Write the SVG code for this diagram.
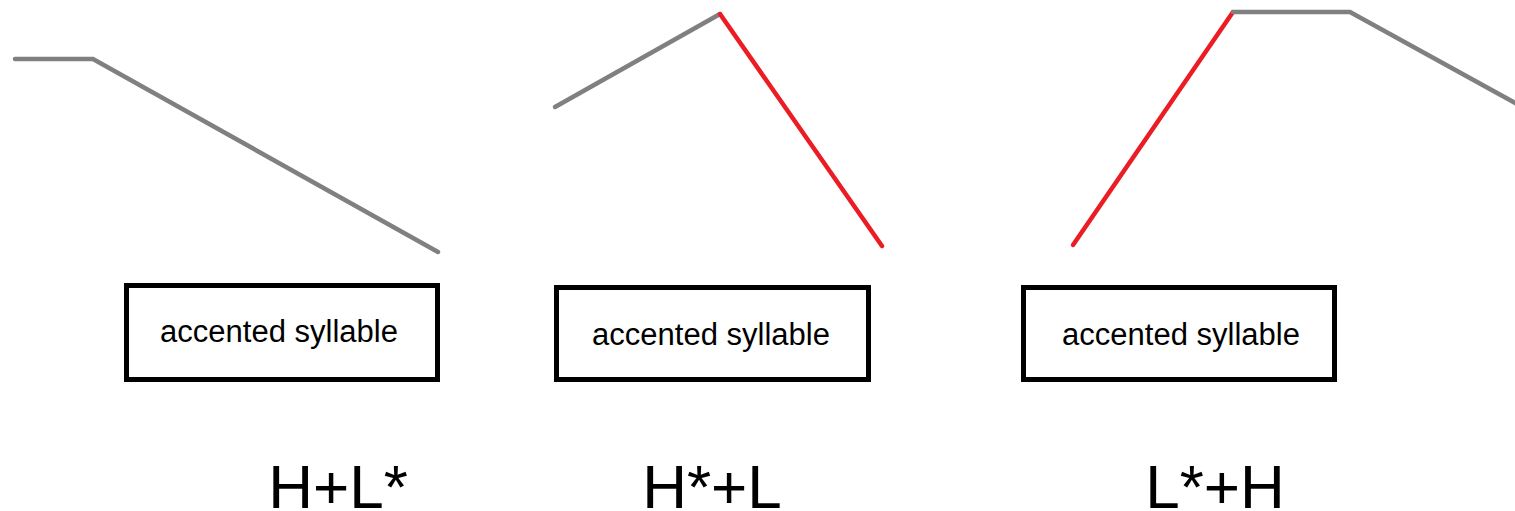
<svg xmlns="http://www.w3.org/2000/svg" width="1515" height="511" viewBox="0 0 1515 511">
<style>
.g{fill:none;stroke:#808080;stroke-width:4.5;stroke-linejoin:miter;stroke-linecap:round}
.r{fill:none;stroke:#ec1c24;stroke-width:4.5;stroke-linecap:round}
.box{fill:#fff;stroke:#000;stroke-width:5}
.t{font-family:"Liberation Sans",Arial,sans-serif;font-size:31px;fill:#000;text-anchor:middle}
.lab{font-family:"Liberation Sans",Arial,sans-serif;font-size:62px;fill:#000;text-anchor:middle}
</style>
<rect width="1515" height="511" fill="#fff"/>
<g id="connectors">
<polyline class="g" points="15,59 93,59 438,252"/>
<polyline class="g" points="555,107 720,14"/>
<line class="r" x1="720" y1="14" x2="882" y2="246"/>
<line class="r" x1="1073" y1="245" x2="1233" y2="12"/>
<polyline class="g" points="1233,12 1350,12 1517,104"/>
</g>
<g id="node1">
<rect class="box" x="126.5" y="285.5" width="311" height="94"/>
<text class="t" x="279" y="342">accented syllable</text>
</g>
<g id="node2">
<rect class="box" x="556.5" y="287.5" width="312" height="92"/>
<text class="t" x="711" y="345">accented syllable</text>
</g>
<g id="node3">
<rect class="box" x="1023.5" y="287.5" width="311" height="92"/>
<text class="t" x="1181" y="345">accented syllable</text>
</g>
<g id="labels">
<text class="lab" x="338" y="508">H+L*</text>
<text class="lab" x="712" y="508">H*+L</text>
<text class="lab" x="1215" y="508">L*+H</text>
</g>
</svg>
